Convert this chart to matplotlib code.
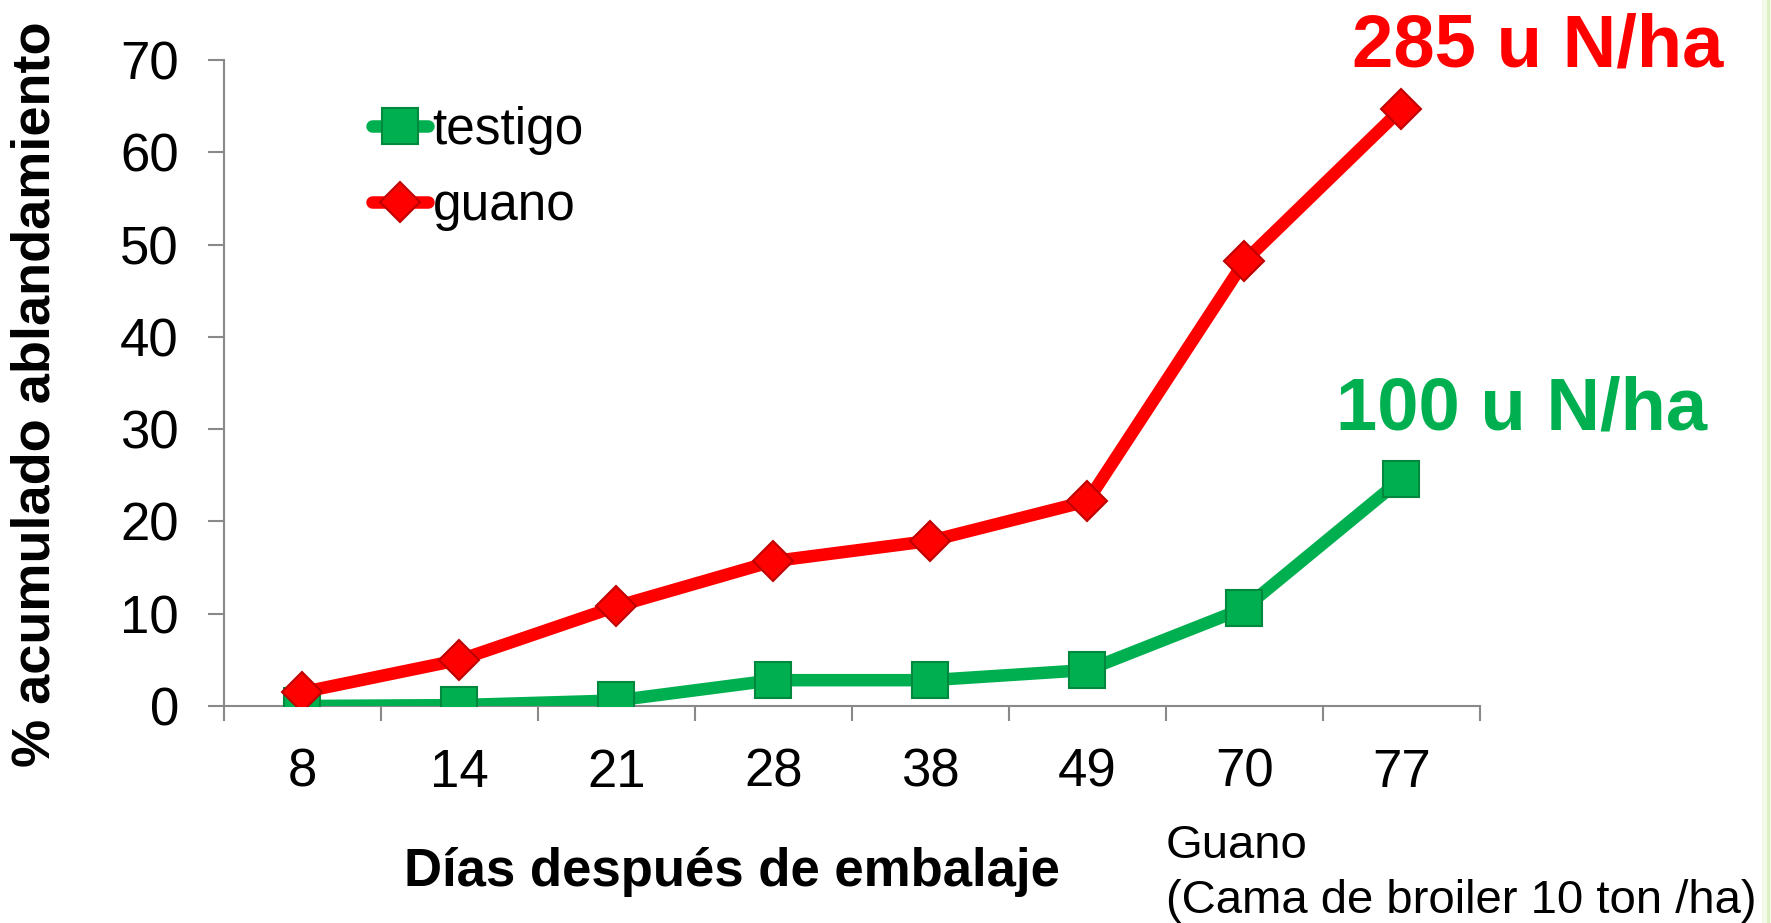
import matplotlib
matplotlib.use("Agg")
import matplotlib.pyplot as plt
from matplotlib.patches import Rectangle
import numpy as np

plt.rcParams['font.family'] = ['Liberation Sans', 'DejaVu Sans']

dias = ["8", "14", "21", "28", "38", "49", "70", "77"]
testigo = [0.0, 0.1, 0.6, 2.8, 2.8, 3.9, 10.6, 24.6]
guano = [1.5, 5.0, 10.8, 15.7, 17.9, 22.2, 48.2, 64.7]

GREEN = "#00B050"
RED = "#FF0000"
GRAY = "#898989"

W, H = 1771, 923
fig = plt.figure(figsize=(W / 100, H / 100), dpi=100)
ax = fig.add_axes([224 / W, 1 - 706 / H, (1480 - 224) / W, (706 - 60) / H])

x = np.arange(len(dias)) + 0.5
ax.plot(x, testigo, color=GREEN, lw=9, marker='s', ms=26,
        mfc=GREEN, mec="#00893E", mew=1.5, label="testigo", zorder=3,
        solid_capstyle='round')
ax.plot(x, guano, color=RED, lw=9, marker='D', ms=20,
        mfc=RED, mec="#C00000", mew=1.5, label="guano", zorder=4,
        solid_capstyle='round')

ax.set_xlim(0, len(dias))
ax.set_ylim(0, 70)
ax.set_yticks(np.arange(0, 71, 10))
ax.set_xticks(x)
ax.set_xticklabels(dias)
ax.set_xticks(np.arange(0, len(dias) + 1), minor=True)

for s in ['top', 'right']:
    ax.spines[s].set_visible(False)
for s in ['left', 'bottom']:
    ax.spines[s].set_color(GRAY)
    ax.spines[s].set_linewidth(1.5)

ax.tick_params(axis='y', which='major', direction='out', length=11.5, width=1.5,
               color=GRAY, labelsize=38, pad=21)
ax.tick_params(axis='x', which='major', length=0, labelsize=38, pad=30)
ax.tick_params(axis='x', which='minor', direction='out', length=11, width=1.5,
               color=GRAY)

leg = ax.legend(loc='upper left', bbox_to_anchor=(372 / W, 1 - 106 / H),
                bbox_transform=fig.transFigure, frameon=False, fontsize=37,
                handlelength=1.08, handletextpad=0.1, borderpad=0,
                borderaxespad=0, labelspacing=0.52, markerscale=1.0)

fig.text(36 / W, 1 - 394 / H, "% acumulado ablandamiento", rotation=90,
         fontsize=39, fontweight='bold', ha='center', va='center')
fig.text(731.5 / W, 1 - 886 / H, "Días después de embalaje",
         fontsize=38, fontweight='bold', ha='center', va='baseline')

fig.text(1352 / W, 1 - 67 / H, "285 u N/ha", fontsize=53.5,
         fontweight='bold', color=RED, ha='left', va='baseline')
fig.text(1336 / W, 1 - 429 / H, "100 u N/ha", fontsize=53.5,
         fontweight='bold', color=GREEN, ha='left', va='baseline')

fig.text(1166 / W, 1 - 858 / H, "Guano", fontsize=34, ha='left', va='baseline')
fig.text(1166 / W, 1 - 913 / H, "(Cama de broiler 10 ton /ha)", fontsize=34,
         ha='left', va='baseline')

# faint green edge on the right
fig.patches.append(Rectangle((1762 / W, 0), 9 / W, 1, transform=fig.transFigure,
                             facecolor="#f3faea", edgecolor='none', zorder=0))
fig.patches.append(Rectangle((1767 / W, 0), 3 / W, 1, transform=fig.transFigure,
                             facecolor="#dcefc6", edgecolor='none', zorder=0))

fig.savefig("out.png", dpi=100)
